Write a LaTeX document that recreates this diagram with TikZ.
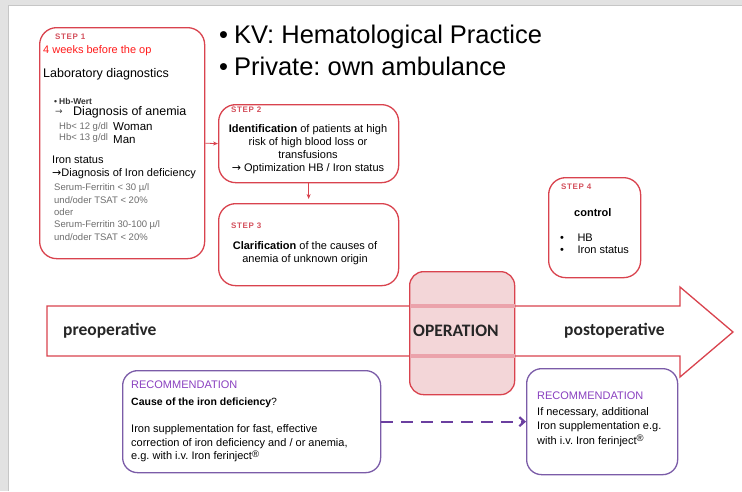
\documentclass[tikz,border=0pt]{standalone}
\usepackage{fontspec}
\setmainfont{Liberation Sans}
\newfontfamily\calib{Carlito}
\newfontfamily\djv{DejaVu Sans}
\newfontfamily\stepfont[LetterSpace=8]{Liberation Sans}
\usetikzlibrary{arrows.meta}
\definecolor{rb}{HTML}{D9434E}
\definecolor{steplab}{HTML}{D4505C}
\definecolor{redtxt}{HTML}{FF1A1A}
\definecolor{pu}{HTML}{7B5CA8}
\definecolor{putxt}{HTML}{8A40C0}
\definecolor{pudash}{HTML}{6B3FA0}
\definecolor{opfill}{HTML}{F3D6D8}
\definecolor{band}{HTML}{EBA3AB}
\definecolor{gtxt}{HTML}{6E6E6E}
\definecolor{frame}{HTML}{E2E2E2}
\newcommand\fsz[2]{\fontsize{#1}{#2}\selectfont}
\newcommand\regmark{\raisebox{2.5pt}{\fsz{9.5}{10}®}}
\newcommand\rarr{{\djv →}}
\frenchspacing
\begin{document}
\begin{tikzpicture}[x=1pt,y=-1pt,
  redbox/.style={draw=rb, line width=1.3pt, rounded corners=17pt, fill=white, inner sep=0pt},
  purbox/.style={draw=pu, line width=1.3pt, rounded corners=15pt, fill=white, inner sep=0pt},
  txt/.style={inner sep=0pt, anchor=west},
  steplabel/.style={txt, text=steplab, font=\stepfont\bfseries\fsz{8}{9}},
  graytxt/.style={txt, text=gtxt, font=\fsz{9.5}{12.3}, align=left},
  rectxt/.style={txt, text=putxt, font=\fsz{11}{13}},
  conn/.style={draw=rb, line width=0.8pt, -{Stealth[length=5pt,width=4pt]}}
]
\useasboundingbox (0,0) rectangle (742,491);
\fill[white] (0,0) rectangle (742,491);
\fill[frame] (0,0) rectangle (742,5);
\fill[frame] (0,0) rectangle (8,491);
\draw[gray!45, line width=0.5pt] (8,491) -- (8,5) -- (742,5);

% title
\node[txt, font=\fsz{25.5}{32}, align=left] (title) at (219,50)
  {•\hspace{6pt}KV: Hematological Practice\\•\hspace{6pt}Private: own ambulance};

% STEP 1
\node[redbox, minimum width=165pt, minimum height=231pt, anchor=north west] (s1) at (39,27) {};
\node[steplabel] (s1l) at (55,37) {STEP 1};
\node[txt, text=redtxt, font=\fsz{11}{13}] (s1a) at (43,51) {4 weeks before the op};
\node[txt, font=\fsz{12.5}{15}] (s1b) at (43,74) {Laboratory diagnostics};
\node[txt, text=black!80, font=\bfseries\fsz{8.5}{10}] (s1c) at (54,101) {•\hspace{2pt}Hb-Wert};
\node[txt, text=black!75, font=\djv\fsz{9}{12}] (s1d) at (55,112) {→};
\node[txt, font=\fsz{12.5}{15}] (s1e) at (73,112) {Diagnosis of anemia};
\node[graytxt] (s1f) at (59,127) {Hb< 12 g/dl};
\node[txt, font=\fsz{11.5}{13}] (s1g) at (113,127) {Woman};
\node[graytxt] (s1h) at (59,138.5) {Hb< 13 g/dl};
\node[txt, font=\fsz{11.5}{13}] (s1i) at (113,139.5) {Man};
\node[txt, font=\fsz{11}{13}] (s1j) at (52,160) {Iron status};
\node[txt, font=\fsz{11}{13}] (s1k) at (52,174) {\rarr Diagnosis of Iron deficiency};
\node[graytxt] (s1m) at (54,212) {Serum-Ferritin < 30 µ/l\\und/oder TSAT < 20\%\\oder\\Serum-Ferritin 30-100 µ/l\\und/oder TSAT < 20\%};

% STEP 2
\node[redbox, minimum width=180pt, minimum height=78pt, anchor=north west] (s2) at (218,104) {};
\node[steplabel] (s2l) at (231,110) {STEP 2};
\node[inner sep=0pt, font=\fsz{11}{13}, align=center] (s2t) at (308,149.5)
  {\textbf{Identification} of patients at high\\risk of high blood loss or\\transfusions\\\rarr\ Optimization HB / Iron status};

% STEP 3
\node[redbox, minimum width=180pt, minimum height=82pt, anchor=north west] (s3) at (218,203) {};
\node[steplabel] (s3l) at (231,226) {STEP 3};
\node[inner sep=0pt, font=\fsz{11}{12.5}, align=center] (s3t) at (305,253)
  {\textbf{Clarification} of the causes of\\anemia of unknown origin};

\draw[conn] (s1.east) -- (s2.west);
\draw[conn, shorten >=4pt] (s2.south) -- (s3.north);

% STEP 4
\node[redbox, minimum width=92pt, minimum height=100pt, anchor=north west] (s4) at (548,177) {};
\node[steplabel] (s4l) at (561,187) {STEP 4};
\node[txt, font=\bfseries\fsz{11}{13}] (s4c) at (574,213) {control};
\node[txt, font=\fsz{11}{12.5}, align=left] (s4b) at (560,244) {•\hspace{13.5pt}HB\\•\hspace{13.5pt}Iron status};

% big timeline arrow
\draw[rb, line width=1.3pt, fill=white, line join=miter]
  (47,306) -- (680,306) -- (680,287) -- (733,332) -- (680,377) -- (680,356) -- (47,356) -- cycle;
\node[draw=rb, line width=1.3pt, rounded corners=14pt, fill=opfill, inner sep=0pt,
  minimum width=105pt, minimum height=123pt, anchor=north west] (op) at (409,271) {};
\draw[band, line width=3.5pt] ([xshift=0.7pt]op.west |- 0,306) -- ([xshift=-0.7pt]op.east |- 0,306);
\draw[band, line width=3.5pt] ([xshift=0.7pt]op.west |- 0,356) -- ([xshift=-0.7pt]op.east |- 0,356);
\node[txt, font=\calib\bfseries\fsz{17.5}{20}, text=black!85] (opt) at (413,331) {OPERATION};
\node[txt, font=\calib\bfseries\fsz{17.5}{20}, text=black!85] (pre) at (63,331) {preoperative};
\node[txt, font=\calib\bfseries\fsz{17.5}{20}, text=black!85] (post) at (564,331) {postoperative};

% recommendations
\node[purbox, minimum width=258pt, minimum height=102pt, anchor=north west] (r1) at (122,370) {};
\node[rectxt] (r1l) at (131,385) {RECOMMENDATION};
\node[txt, font=\fsz{10.5}{13}] (r1a) at (131,403) {\textbf{Cause of the iron deficiency}?};
\node[txt, font=\fsz{11}{13.5}, align=left] (r1b) at (131,443.5)
  {Iron supplementation for fast, effective\\correction of iron deficiency and / or anemia,\\e.g. with i.v. Iron ferinject\regmark};

\node[purbox, minimum width=151pt, minimum height=106pt, anchor=north west] (r2) at (526,368) {};
\node[rectxt] (r2l) at (537,396) {RECOMMENDATION};
\node[txt, font=\fsz{11}{14.5}, align=left] (r2b) at (537,427)
  {If necessary, additional\\Iron supplementation e.g.\\with i.v. Iron ferinject\regmark};

\draw[pudash, line width=2.2pt, dash pattern=on 12pt off 8pt, -{Straight Barb[length=5pt,width=9pt]}]
  (r1.east) -- (r2.west);
\end{tikzpicture}
\end{document}
